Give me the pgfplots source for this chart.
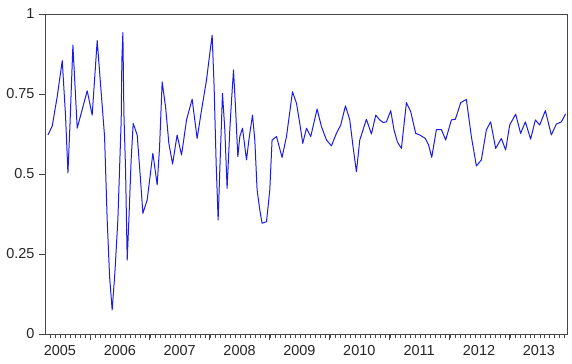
\documentclass[border=0pt]{standalone}
\usepackage{fontspec}
\setmainfont{Liberation Sans}
\usepackage{pgfplots}
\pgfplotsset{compat=1.18}
\definecolor{lineblue}{RGB}{28,28,228}
\definecolor{framegray}{RGB}{70,70,70}
\begin{document}
\begin{tikzpicture}
\useasboundingbox (-45bp,-30bp) rectangle (527bp,334bp);
\begin{axis}[
  at={(0bp,0bp)}, anchor=south west,
  width=522bp, height=320bp, scale only axis,
  xmin=2005.25, xmax=2013.97, ymin=0, ymax=1,
  axis line style={framegray, line width=0.8bp},
  every tick/.style={framegray, line width=0.7bp},
  tick align=outside,
  xtick pos=bottom, ytick pos=left,
  xtick={2006,2007,2008,2009,2010,2011,2012,2013}, xticklabels={},
  major tick length=6bp, minor tick length=3.5bp,
  minor xtick={2005.3333,2005.4167,...,2013.95},
  extra x ticks={2005.5,2006.5,2007.5,2008.5,2009.5,2010.5,2011.5,2012.5,2013.5},
  extra x tick labels={2005,2006,2007,2008,2009,2010,2011,2012,2013},
  extra x tick style={major tick length=0pt, xticklabel style={yshift=-8bp}},
  ytick={0,0.25,0.5,0.75,1}, yticklabels={0,0.25,0.5,0.75,1},
  tick label style={font=\fontsize{14.5}{16}\selectfont, text=black!85},
  yticklabel style={xshift=-1bp},
  clip=false,
]
\addplot[lineblue, line width=1bp, line join=round] coordinates {
(2005.299,0.622)
(2005.371,0.650)
(2005.454,0.742)
(2005.538,0.854)
(2005.594,0.679)
(2005.633,0.503)
(2005.666,0.648)
(2005.716,0.903)
(2005.788,0.643)
(2005.955,0.760)
(2006.038,0.684)
(2006.122,0.917)
(2006.245,0.617)
(2006.289,0.356)
(2006.329,0.179)
(2006.372,0.075)
(2006.417,0.190)
(2006.467,0.356)
(2006.523,0.669)
(2006.534,0.856)
(2006.551,0.942)
(2006.568,0.690)
(2006.596,0.512)
(2006.623,0.231)
(2006.651,0.356)
(2006.689,0.544)
(2006.723,0.658)
(2006.790,0.622)
(2006.846,0.481)
(2006.885,0.377)
(2006.957,0.419)
(2007.052,0.565)
(2007.124,0.466)
(2007.164,0.585)
(2007.207,0.788)
(2007.264,0.710)
(2007.319,0.596)
(2007.381,0.531)
(2007.457,0.622)
(2007.531,0.559)
(2007.614,0.669)
(2007.708,0.734)
(2007.791,0.611)
(2007.865,0.700)
(2007.948,0.794)
(2008.003,0.877)
(2008.042,0.934)
(2008.075,0.773)
(2008.109,0.533)
(2008.142,0.356)
(2008.170,0.512)
(2008.215,0.752)
(2008.254,0.638)
(2008.292,0.455)
(2008.337,0.638)
(2008.366,0.731)
(2008.399,0.825)
(2008.432,0.710)
(2008.471,0.554)
(2008.504,0.617)
(2008.549,0.643)
(2008.616,0.544)
(2008.659,0.611)
(2008.716,0.684)
(2008.755,0.606)
(2008.793,0.450)
(2008.838,0.388)
(2008.876,0.346)
(2008.950,0.351)
(2009.005,0.450)
(2009.043,0.606)
(2009.117,0.617)
(2009.210,0.552)
(2009.284,0.617)
(2009.384,0.757)
(2009.451,0.721)
(2009.506,0.658)
(2009.556,0.596)
(2009.618,0.643)
(2009.689,0.617)
(2009.795,0.703)
(2009.868,0.648)
(2009.952,0.606)
(2010.035,0.588)
(2010.118,0.627)
(2010.190,0.653)
(2010.269,0.713)
(2010.341,0.669)
(2010.396,0.585)
(2010.452,0.507)
(2010.508,0.606)
(2010.619,0.671)
(2010.703,0.625)
(2010.775,0.684)
(2010.841,0.669)
(2010.897,0.661)
(2010.953,0.663)
(2011.025,0.698)
(2011.080,0.638)
(2011.137,0.600)
(2011.204,0.580)
(2011.287,0.723)
(2011.359,0.695)
(2011.442,0.627)
(2011.509,0.622)
(2011.604,0.611)
(2011.659,0.590)
(2011.710,0.552)
(2011.788,0.639)
(2011.871,0.639)
(2011.943,0.606)
(2012.038,0.669)
(2012.105,0.671)
(2012.194,0.723)
(2012.289,0.733)
(2012.372,0.617)
(2012.456,0.525)
(2012.539,0.544)
(2012.623,0.638)
(2012.694,0.663)
(2012.778,0.580)
(2012.873,0.611)
(2012.945,0.575)
(2013.012,0.653)
(2013.112,0.687)
(2013.195,0.627)
(2013.274,0.663)
(2013.362,0.609)
(2013.441,0.669)
(2013.513,0.653)
(2013.608,0.698)
(2013.708,0.622)
(2013.791,0.656)
(2013.875,0.663)
(2013.947,0.688)
};
\end{axis}
\end{tikzpicture}
\end{document}
